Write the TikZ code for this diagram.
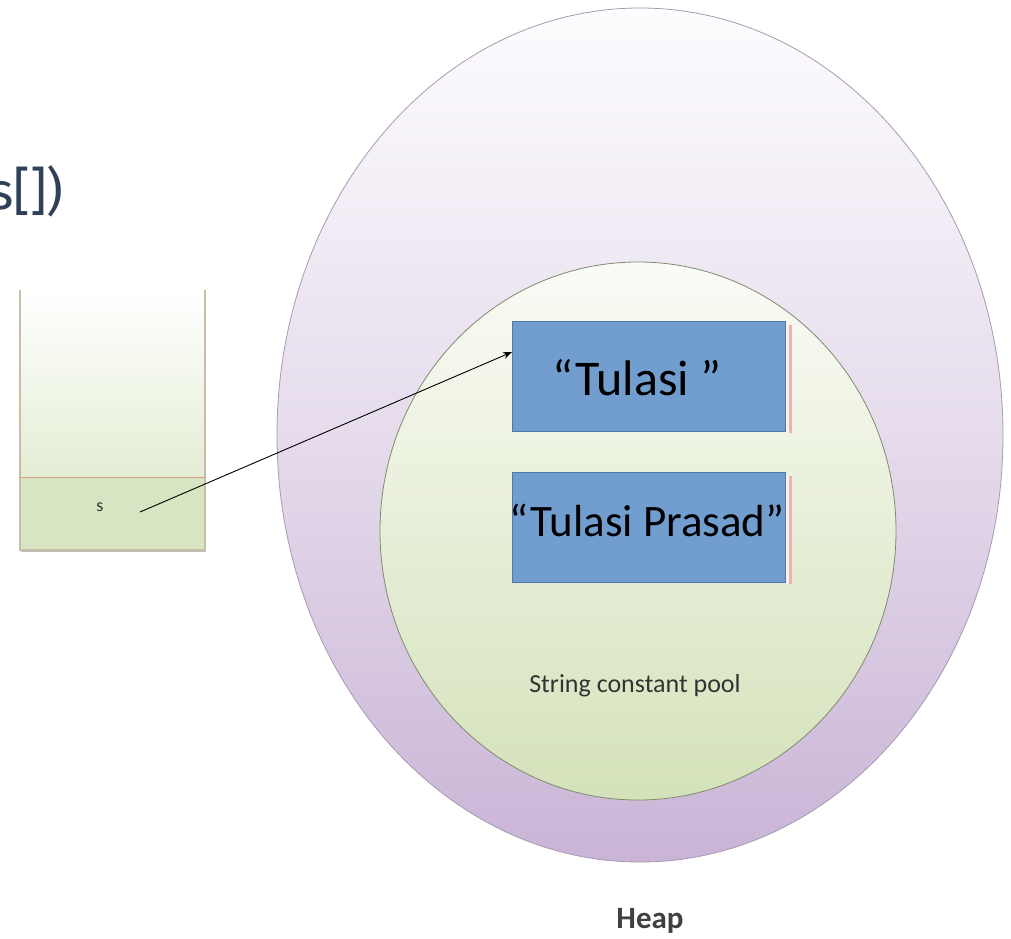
\documentclass[tikz,border=0pt]{standalone}
\usepackage{fontspec}
\setmainfont{Carlito}
\newfontfamily\codefont{Fira Sans}
\usetikzlibrary{arrows.meta}
\definecolor{heapA}{HTML}{FDFCFE}
\definecolor{heapB}{HTML}{C9B4D6}
\definecolor{heapLine}{HTML}{A89AB0}
\definecolor{poolA}{HTML}{FAFBF6}
\definecolor{poolB}{HTML}{D4E2BA}
\definecolor{poolLine}{HTML}{7F8A70}
\definecolor{boxFill}{HTML}{729ECF}
\definecolor{boxLine}{HTML}{4F79AE}
\definecolor{boxShade}{HTML}{E7B4B4}
\definecolor{stackLine}{HTML}{C9BFA8}
\definecolor{stackDiv}{HTML}{CF9F86}
\definecolor{stackFill}{HTML}{D8E5C2}
\definecolor{codeInk}{HTML}{2E4156}
\tikzset{
  strbox/.style={draw=boxLine, fill=boxFill, line width=0.8pt, minimum width=273pt,
    minimum height=110pt, inner sep=0pt},
  smalltext/.style={text=black!80, inner sep=0pt}
}
\begin{document}
\begin{tikzpicture}[x=1pt,y=-1pt]
\useasboundingbox (0,0) rectangle (1011,938);
\fill[white] (0,0) rectangle (1011,938);

% tail of the method signature at the upper left
\begin{scope}
\clip (0,0) rectangle (1011,938);
\node[anchor=base east, text=codeInk, inner sep=0pt, font=\codefont\fontsize{52}{60}\selectfont]
  (sig) at (64,209) {s[])};
\end{scope}

% stack frame
\shade[top color=white, bottom color=stackFill!70] (20,290) rectangle (205,477);
\fill[stackFill] (20,477) rectangle (205,550);
\draw[stackLine, line width=1.4pt] (20,290) -- (20,550) -- (205,550) -- (205,290);
\draw[black!25, line width=1.5pt] (21,551.5) -- (206,551.5);
\draw[stackDiv, line width=1pt] (20,477) -- (205,477);
\node[smalltext, font=\fontsize{18}{20}\selectfont] (s) at (100,507) {s};
\coordinate (sref) at (140,512);

% heap
\shade[top color=heapA, bottom color=heapB, middle color=heapB!45!heapA, draw=heapLine, line width=0.8pt]
  (640,435) ellipse [x radius=363, y radius=427];
\node[font=\bfseries\fontsize{31}{34}\selectfont, text=black!75, inner sep=0pt] (heap) at (650,921) {Heap};

% string constant pool
\shade[top color=poolA, bottom color=poolB, draw=poolLine, line width=0.8pt]
  (638,531) ellipse [x radius=258, y radius=269];
\node[smalltext, font=\fontsize{26}{30}\selectfont] (pool) at (635,686) {String constant pool};

% string objects
\fill[boxShade] (785,325) rectangle (792,433);
\fill[white!80!boxShade] (785,325) rectangle (789,433);
\node[strbox, anchor=north west] (t1) at (512,321) {};
\node[font=\fontsize{50}{56}\selectfont, inner sep=0pt] at (637,378) {“Tulasi ”};
\fill[boxShade] (785,476) rectangle (792,584);
\fill[white!80!boxShade] (785,476) rectangle (789,584);
\node[strbox, anchor=north west] (t2) at (512,472) {};
\node[font=\fontsize{45}{50}\selectfont, inner sep=0pt] at (647,520) {“Tulasi Prasad”};

% reference from s to the pooled literal
\draw[-{Stealth[length=9pt,width=7pt]}, line width=0.9pt] (sref) -- (t1.west |- 0,352);
\end{tikzpicture}
\end{document}
